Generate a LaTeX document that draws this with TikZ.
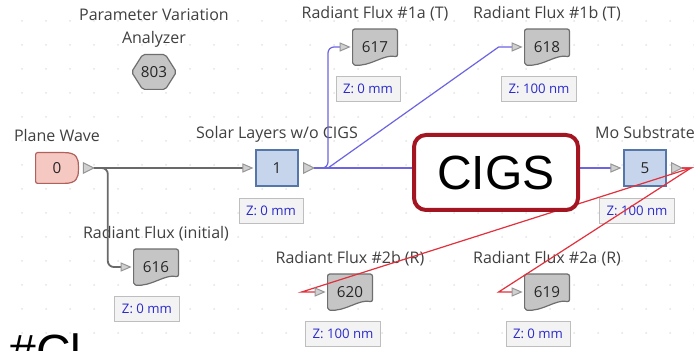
\documentclass[tikz,border=0pt]{standalone}
\usepackage{fontspec}
\setmainfont{Open Sans}
\newfontfamily\cigsfont{Liberation Sans}
\usepackage{tikz}
\usetikzlibrary{positioning,arrows.meta,calc,backgrounds}
\definecolor{labcol}{RGB}{64,64,64}
\definecolor{pwfill}{RGB}{245,200,194}
\definecolor{pwline}{RGB}{178,96,90}
\definecolor{layfill}{RGB}{198,212,236}
\definecolor{layline}{RGB}{85,118,168}
\definecolor{docfill}{RGB}{197,197,197}
\definecolor{docline}{RGB}{110,110,110}
\definecolor{zfill}{RGB}{243,243,243}
\definecolor{zline}{RGB}{190,190,190}
\definecolor{ztext}{RGB}{43,43,204}
\definecolor{bcon}{RGB}{108,100,226}
\definecolor{gcon}{RGB}{105,105,105}
\definecolor{rcon}{RGB}{226,48,60}
\definecolor{cigsred}{RGB}{163,22,33}
\definecolor{portfill}{RGB}{208,208,208}
\definecolor{portline}{RGB}{150,150,150}
\tikzset{
  lbl/.style={text=labcol,font=\fontsize{8}{11.5}\selectfont,align=center,inner sep=0pt,text depth=1.8pt},
  num/.style={font=\fontsize{7.6}{9}\selectfont,text=black!85,inner sep=0pt},
  lay/.style={num,draw=layline,fill=layfill,line width=0.6pt,minimum width=21pt,minimum height=18pt},
  flux/.style={num,minimum width=22pt,minimum height=17.5pt},
  zbox/.style={draw=zline,fill=zfill,text=ztext,font=\fontsize{6.6}{8}\selectfont,inner xsep=3.5pt,inner ysep=0pt,minimum height=12.5pt,line width=0.5pt},
  shp/.style={line width=0.6pt,rounded corners=1pt},
  portst/.style={draw=portline,fill=portfill,line width=0.5pt},
  con/.style={line width=0.6pt,-{Triangle[length=5.5pt,width=4.6pt,line width=0.5pt,color=portline,fill=portfill]},shorten >=1pt},
  gline/.style={con,draw=gcon,line width=0.9pt},
  bline/.style={con,draw=bcon},
  rline/.style={con,draw=rcon},
  bigtxt/.style={font=\cigsfont\fontsize{24}{28}\selectfont,inner sep=0pt},
}
% output port of a block, with the coordinate at its tip
\newcommand{\outport}[2]{%
  \draw[portst] ($(#1.east)+(2.5pt,2.6pt)$) -- ++(5.2pt,-2.6pt) -- ++(-5.2pt,-2.6pt) -- cycle;
  \coordinate (#2) at ($(#1.east)+(7.7pt,0)$);}
% document outline of a flux detector
\newcommand{\fluxdoc}[1]{%
  \begin{scope}[on background layer]
    \draw[shp,draw=docline,fill=docfill] (#1.north west) -- (#1.north east) -- ($(#1.south east)+(0,4pt)$)
      .. controls ($(#1.south east)+(-7pt,5.5pt)$) and ($(#1.south west)+(9pt,-1pt)$) .. (#1.south west) -- cycle;
  \end{scope}}

\begin{document}
\begin{tikzpicture}[x=0.5pt,y=-0.5pt]
  \useasboundingbox (0,0) rectangle (694,351);
  \clip (0,0) rectangle (694,351);
  \begin{scope}[on background layer]
    \fill[white] (0,0) rectangle (694,351);
    \foreach \i in {0,...,28}
      \foreach \j in {0,...,14}
        \fill[gray!22] (22+24*\i,21+24*\j) circle (0.5pt);
  \end{scope}

  % analyzer
  \node[num,minimum width=22pt,minimum height=17pt] (n803) at (154,72) {803};
  \begin{scope}[on background layer]
    \draw[shp,draw=docline,fill=docfill] (n803.west) -- ($(n803.north west)+(5.5pt,0)$) -- ($(n803.north east)+(-5.5pt,0)$)
      -- (n803.east) -- ($(n803.south east)+(-5.5pt,0)$) -- ($(n803.south west)+(5.5pt,0)$) -- cycle;
  \end{scope}
  \node[lbl,above=3.5pt of n803] (t803) {Parameter Variation\\Analyzer};

  % source
  \node[num,minimum width=21pt,minimum height=15pt] (n0) at (57,168) {0};
  \begin{scope}[on background layer]
    \draw[shp,draw=pwline,fill=pwfill] (n0.north west) -- ($(n0.north east)+(-8pt,0)$)
      .. controls ($(n0.north east)+(-1pt,0)$) and ($(n0.east)+(0,5pt)$) .. (n0.east)
      .. controls ($(n0.east)+(0,-5pt)$) and ($(n0.south east)+(-1pt,0)$) .. ($(n0.south east)+(-8pt,0)$)
      -- (n0.south west) -- cycle;
  \end{scope}
  \node[lbl,above=3.5pt of n0] (t0) {Plane Wave};

  % layers
  \node[lay] (n1) at (277,168) {1};
  \node[lbl,above=3.5pt of n1] (t1) {Solar Layers w/o CIGS};
  \node[lay] (n5) at (645,168) {5};
  \node[lbl,above=3.5pt of n5] (t5) {Mo Substrate};

  % detectors
  \node[flux] (n616) at (156,267) {616};
  \node[flux] (n617) at (375,47) {617};
  \node[flux] (n618) at (547,47) {618};
  \node[flux] (n620) at (350,292) {620};
  \node[flux] (n619) at (547,292) {619};
  \fluxdoc{n616} \fluxdoc{n617} \fluxdoc{n618} \fluxdoc{n620} \fluxdoc{n619}
  \node[lbl,above=3.5pt of n616] (t616) {Radiant Flux (initial)};
  \node[lbl,above=3.5pt of n617] (t617) {Radiant Flux \#1a (T)};
  \node[lbl,above=3.5pt of n618] (t618) {Radiant Flux \#1b (T)};
  \node[lbl,above=3.5pt of n620] (t620) {Radiant Flux \#2b (R)};
  \node[lbl,above=3.5pt of n619] (t619) {Radiant Flux \#2a (R)};

  % z positions
  \node[zbox,below=5.5pt of n1,xshift=-3pt] (z1) {Z: 0 mm};
  \node[zbox,below=5.5pt of n5,xshift=-4pt] (z5) {Z: 100 nm};
  \node[zbox,below=5.5pt of n616,xshift=-4.5pt] (z616) {Z: 0 mm};
  \node[zbox,below=5.5pt of n617,xshift=-3.5pt] (z617) {Z: 0 mm};
  \node[zbox,below=5.5pt of n618,xshift=-4pt] (z618) {Z: 100 nm};
  \node[zbox,below=5.5pt of n620,xshift=-3.5pt] (z620) {Z: 100 nm};
  \node[zbox,below=5.5pt of n619,xshift=-4.5pt] (z619) {Z: 0 mm};

  % ports and connectors
  \outport{n0}{o0}
  \outport{n1}{o1}
  \outport{n5}{o5}
  \coordinate (k618) at ($(n618.west)+(-13pt,0)$);
  \coordinate (k620) at ($(n620.west)+(-13pt,0)$);
  \coordinate (k619) at ($(n619.west)+(-13pt,0)$);
  \draw[gline] (o0) -- (n1.west);
  \draw[gline,rounded corners=3pt] (o0) -- ++(14,0) |- (n616.west);
  \draw[bline] (o1) -- (n5.west);
  \draw[bline,rounded corners=3pt] (o1) -- ++(14,0) |- (n617.west);
  \draw[bline] (o1) -- ++(14,0) -- (k618) -- (n618.west);
  \draw[rline] (o5) -- ++(9,0) -- (k620) -- (n620.west);
  \draw[rline] (o5) -- ++(9,0) -- (k619) -- (n619.west);

  % callout
  \node[bigtxt,draw=cigsred,line width=2pt,rounded corners=6pt,fill=white,minimum width=82pt,minimum height=37.5pt] (cigs) at (496,172.5) {CIGS};
  \node[bigtxt,anchor=north west] (cl) at (9,333) {\#Cl};
\end{tikzpicture}
\end{document}
